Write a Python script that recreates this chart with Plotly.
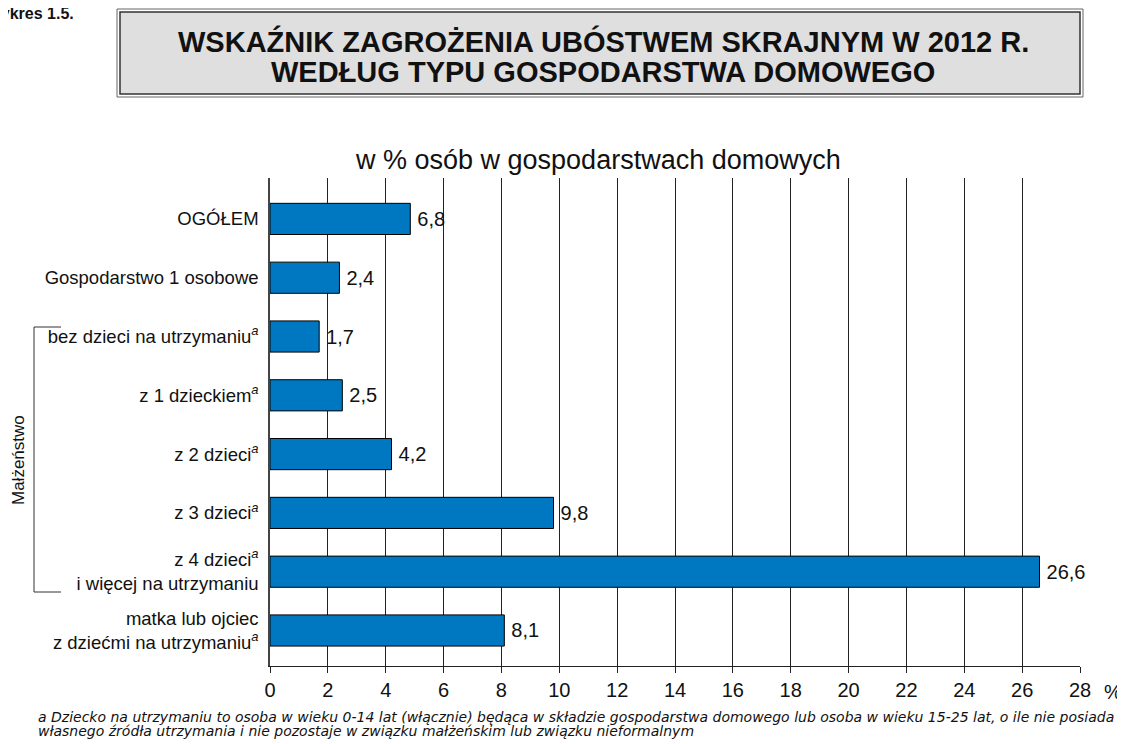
import plotly.graph_objects as go

categories = [
    "OGÓŁEM",
    "Gospodarstwo 1 osobowe",
    "bez dzieci na utrzymaniu<sup><i>a</i></sup>",
    "z 1 dzieckiem<sup><i>a</i></sup>",
    "z 2 dzieci<sup><i>a</i></sup>",
    "z 3 dzieci<sup><i>a</i></sup>",
    "z 4 dzieci<sup><i>a</i></sup><br>i więcej na utrzymaniu",
    "matka lub ojciec<br>z dziećmi na utrzymaniu<sup><i>a</i></sup>",
]
# bar lengths as drawn in the picture (the OGÓŁEM bar is drawn shorter than its label)
bar_lengths = [4.85, 2.4, 1.7, 2.5, 4.2, 9.8, 26.6, 8.1]
# printed value labels
value_labels = ["6,8", "2,4", "1,7", "2,5", "4,2", "9,8", "26,6", "8,1"]
x_ticks = list(range(0, 29, 2))

# page offset (browser body margin)
OFF = 8
W, H = 1125 - OFF, 744 - OFF
# plot area in reference page pixels
PX0, PX1, PY0, PY1 = 270, 1080, 178, 666
L, T = PX0 - OFF, PY0 - OFF
pw, ph = PX1 - PX0, PY1 - PY0
R, B = W - L - pw, H - T - ph

def px(x):
    return (x - PX0) / pw

def py(y):
    return 1 - (y - PY0) / ph

FONT = "Liberation Sans, Arial, sans-serif"
WIDE = "DejaVu Sans, Liberation Sans, Arial, sans-serif"

fig = go.Figure(go.Bar(
    x=bar_lengths, y=categories, orientation="h",
    marker=dict(color="#0078c1", line=dict(color="black", width=1)),
    width=0.53,
    text=value_labels, texttemplate="\u2009%{text}", textposition="outside",
    textfont=dict(size=20, color="#111", family=FONT),
    cliponaxis=False, hoverinfo="skip",
))

fig.update_layout(
    width=W, height=H,
    margin=dict(l=L, r=R, t=T, b=B),
    paper_bgcolor="white", plot_bgcolor="white",
    showlegend=False,
    font=dict(family=FONT, color="#111"),
)
fig.update_xaxes(
    range=[0, 28], tickvals=x_ticks, ticktext=[str(t) for t in x_ticks],
    showgrid=True, gridcolor="#222", gridwidth=1,
    showline=True, linecolor="#222", linewidth=1,
    ticks="outside", ticklen=6, tickcolor="#222",
    tickfont=dict(size=20, family=FONT, color="#111"),
    zeroline=False,
)
fig.update_yaxes(
    range=[7.604, -0.696], showline=True, linecolor="#444", linewidth=1.5,
    showgrid=False, ticks="", ticklabelstandoff=6,
    tickfont=dict(size=18.5, family=FONT, color="#111"),
)

shapes = [
    dict(type="rect", xref="paper", yref="paper",
         x0=px(117), x1=px(1083), y0=py(97), y1=py(9),
         line=dict(color="#666", width=1), fillcolor="white", layer="below"),
    dict(type="rect", xref="paper", yref="paper",
         x0=px(120), x1=px(1080), y0=py(94), y1=py(12),
         line=dict(color="#333", width=1.5), fillcolor="#dfdfdf", layer="below"),
    dict(type="line", xref="paper", yref="paper",
         x0=px(34), x1=px(34), y0=py(327), y1=py(592), line=dict(color="#333", width=1)),
    dict(type="line", xref="paper", yref="paper",
         x0=px(34), x1=px(61), y0=py(327), y1=py(327), line=dict(color="#333", width=1)),
    dict(type="line", xref="paper", yref="paper",
         x0=px(34), x1=px(61), y0=py(592), y1=py(592), line=dict(color="#333", width=1)),
]

def ann(text, x, y, size, family=FONT, xanchor="center", **kw):
    return dict(text=text, x=px(x), y=py(y), xref="paper", yref="paper",
                showarrow=False, xanchor=xanchor, yanchor="middle",
                font=dict(size=size, color="#111", family=family), **kw)

annotations = [
    ann("<b>WSKAŹNIK ZAGROŻENIA UBÓSTWEM SKRAJNYM W 2012 R.</b>", 603, 42, 29),
    ann("<b>WEDŁUG TYPU GOSPODARSTWA DOMOWEGO</b>", 603, 72, 29),
    ann("<b>Wykres 1.5.</b>", 76, 14, 16, xanchor="right"),
    ann("w % osób w gospodarstwach domowych", 598, 160, 27),
    ann("Małżeństwo", 18, 460, 17, textangle=-90),
    ann("%", 1113, 692, 20),
    ann("<i>a Dziecko na utrzymaniu to osoba w wieku 0-14 lat (włącznie) będąca w składzie gospodarstwa domowego lub osoba w wieku 15-25 lat, o ile nie posiada</i>",
        36, 717, 14, family=WIDE, xanchor="left"),
    ann("<i>własnego źródła utrzymania i nie pozostaje w związku małżeńskim lub związku nieformalnym</i>",
        36, 731, 14, family=WIDE, xanchor="left"),
]
fig.update_layout(shapes=shapes, annotations=annotations)

fig.write_html("out.html")
